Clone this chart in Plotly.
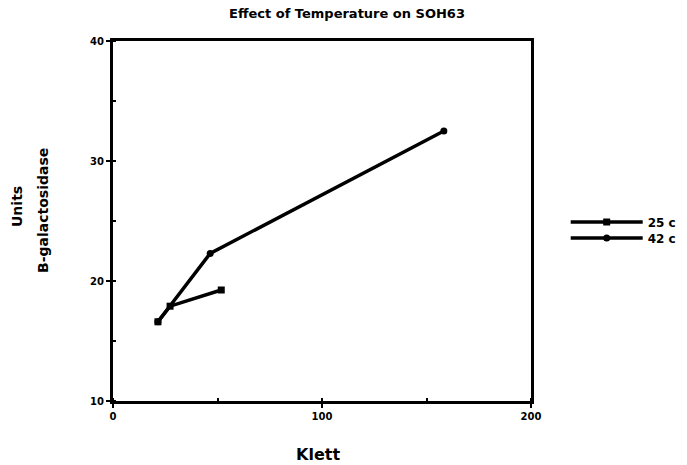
import plotly.graph_objects as go

title = "Effect of Temperature on SOH63"
x_25 = [21.5, 27.3, 51.8]
y_25 = [16.6, 17.9, 19.25]
x_42 = [21.5, 46.5, 158.3]
y_42 = [16.6, 22.3, 32.5]
x_ticks = [0, 100, 200]
y_ticks = [10, 20, 30, 40]

FONT = "DejaVu Sans"
fig = go.Figure()
fig.add_trace(go.Scatter(x=x_25, y=y_25, mode="lines+markers", name="25 c",
                         line=dict(color="black", width=3.5),
                         marker=dict(symbol="square", size=7, color="black"), legend="legend"))
fig.add_trace(go.Scatter(x=x_42, y=y_42, mode="lines+markers", name="42 c",
                         line=dict(color="black", width=3.5),
                         marker=dict(symbol="circle", size=7, color="black"), legend="legend2"))

axis_common = dict(showgrid=False, zeroline=False, showline=True, linecolor="black",
                   linewidth=3, mirror=True, ticks="outside", ticklen=4, tickwidth=2,
                   tickcolor="black", tickfont=dict(family=FONT, size=10, color="black", weight="bold"))
fig.update_xaxes(range=[0, 200], tickvals=x_ticks, minor=dict(ticks="inside", ticklen=3, dtick=50, tickcolor="black"),
                 **axis_common)
fig.update_yaxes(range=[10, 40], tickvals=y_ticks, minor=dict(ticks="inside", ticklen=3, dtick=5, tickcolor="black"),
                 **axis_common)

leg_font = dict(family=FONT, size=12, color="black", weight="bold")
fig.update_layout(
    width=687, height=465,
    margin=dict(l=113, r=156, t=41, b=64, autoexpand=False),
    paper_bgcolor="white", plot_bgcolor="white",
    title=dict(text=title, x=347 / 687, xanchor="center", y=1 - 13 / 465, yanchor="middle",
               font=dict(family=FONT, size=13, color="black", weight="bold")),
    legend=dict(x=1.083, y=(401 - 222) / 360, xanchor="left", yanchor="middle", bgcolor="rgba(0,0,0,0)",
                font=leg_font, itemwidth=72),
    legend2=dict(x=1.083, y=(401 - 238) / 360, xanchor="left", yanchor="middle", bgcolor="rgba(0,0,0,0)",
                 font=leg_font, itemwidth=72),
    showlegend=True,
)
fig.add_annotation(text="Klett", xref="paper", yref="paper", x=(318 - 113) / 418, y=-(454 - 401) / 360,
                   showarrow=False, yanchor="middle", xanchor="center",
                   font=dict(family=FONT, size=16, color="black", weight="bold"))
fig.add_annotation(text="Units", xref="paper", yref="paper", x=-(113 - 17) / 418, y=(401 - 207) / 360,
                   showarrow=False, textangle=-90, xanchor="center", yanchor="middle",
                   font=dict(family=FONT, size=14, color="black", weight="bold"))
fig.add_annotation(text="B-galactosidase", xref="paper", yref="paper", x=-(113 - 43) / 418, y=(401 - 211) / 360,
                   showarrow=False, textangle=-90, xanchor="center", yanchor="middle",
                   font=dict(family=FONT, size=14, color="black", weight="bold"))
fig.write_html("out.html")
